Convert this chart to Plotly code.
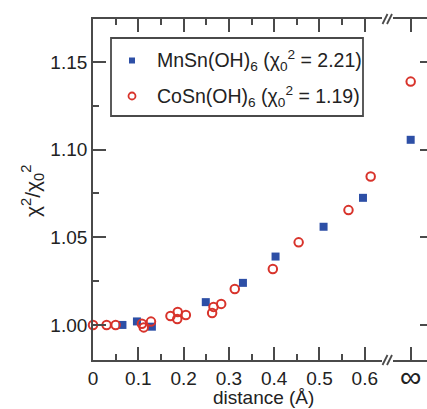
import plotly.graph_objects as go

# ---- data ----
mn_x = [0.065, 0.097, 0.130, 0.249, 0.331, 0.403, 0.509, 0.596]
mn_y = [1.000, 1.002, 0.999, 1.013, 1.024, 1.039, 1.056, 1.0725]
mn_inf = 1.1056

co_x = [0.0, 0.030, 0.050, 0.108, 0.112, 0.128, 0.171, 0.187, 0.186, 0.205,
        0.263, 0.266, 0.283, 0.313, 0.397, 0.454, 0.564, 0.613]
co_y = [1.000, 1.000, 1.000, 1.0007, 0.9986, 1.0019, 1.0051, 1.0074, 1.0034, 1.0057,
        1.0068, 1.0103, 1.012, 1.0205, 1.0319, 1.0471, 1.0655, 1.0847]
co_inf = 1.1388

x_ticks = [0, 0.1, 0.2, 0.3, 0.4, 0.5, 0.6]
x_ticklabels = ["0", "0.1", "0.2", "0.3", "0.4", "0.5", "0.6"]
y_ticks = [1.00, 1.05, 1.10, 1.15]
y_ticklabels = ["1.00", "1.05", "1.10", "1.15"]
inf_label = "∞"
legend_labels = ["MnSn(OH)<sub>6</sub> (χ<sub>0</sub><sup>2</sup> = 2.21)",
                 "CoSn(OH)<sub>6</sub> (χ<sub>0</sub><sup>2</sup> = 1.19)"]

BLUE = "#2d4fa6"
RED = "#d8332b"
AX = "#4a4a4a"
TXT = "#222222"
FONT = "Liberation Sans"

W, H = 427, 409
L, R, T, B = 93, 0, 19, 49
PW, PH = W - L - R, H - T - B


def px(x):
    return (x - L) / PW


def py(y):
    return (H - B - y) / PH


fig = go.Figure()
sq = dict(symbol="square", size=8, color=BLUE, line=dict(width=0))
ci = dict(symbol="circle-open", size=8.5, color=RED, line=dict(width=2, color=RED))

fig.add_trace(go.Scatter(x=mn_x, y=mn_y, mode="markers", marker=sq, cliponaxis=False,
                         xaxis="x", yaxis="y", showlegend=False))
fig.add_trace(go.Scatter(x=co_x, y=co_y, mode="markers", marker=ci, cliponaxis=False,
                         xaxis="x", yaxis="y", showlegend=False))
fig.add_trace(go.Scatter(x=[0.5], y=[mn_inf], mode="markers", marker=sq, cliponaxis=False,
                         xaxis="x2", yaxis="y2", showlegend=False))
fig.add_trace(go.Scatter(x=[0.5], y=[co_inf], mode="markers", marker=ci, cliponaxis=False,
                         xaxis="x2", yaxis="y2", showlegend=False))

yr = [0.98, 1.1745]
d1 = px(382)
d2 = px(393)
LW = 1.8

fig.update_layout(
    width=W, height=H,
    margin=dict(l=L, r=R, t=T, b=B, autoexpand=False),
    paper_bgcolor="white", plot_bgcolor="white",
    font=dict(family=FONT, size=19, color=TXT),
    xaxis=dict(domain=[0, d1], range=[0, 0.638], showgrid=False, zeroline=False,
               showline=True, linecolor=AX, linewidth=LW, mirror="allticks",
               ticks="inside", ticklen=13, tickwidth=LW, tickcolor=AX,
               tickvals=x_ticks, ticktext=x_ticklabels,
               minor=dict(ticks="inside", ticklen=6, tickwidth=LW, tickcolor=AX, dtick=0.05),
               tickfont=dict(size=19, color=TXT), anchor="y", automargin=False),
    yaxis=dict(domain=[0, 1], range=yr, showgrid=False, zeroline=False,
               showline=True, linecolor=AX, linewidth=LW, mirror=False,
               ticks="inside", ticklen=13, tickwidth=LW, tickcolor=AX,
               tickvals=y_ticks, ticktext=y_ticklabels,
               minor=dict(ticks="inside", ticklen=6, tickwidth=LW, tickcolor=AX, dtick=0.025),
               tickfont=dict(size=19, color=TXT), anchor="x", automargin=False),
    xaxis2=dict(domain=[d2, 1], range=[-0.02, 0.98], showgrid=False, zeroline=False,
                showline=True, linecolor=AX, linewidth=LW, mirror="allticks",
                ticks="inside", ticklen=13, tickwidth=LW, tickcolor=AX,
                tickvals=[0.5], showticklabels=False, anchor="y2", automargin=False),
    yaxis2=dict(domain=[0, 1], range=yr, showgrid=False, zeroline=False,
                showline=False, side="right", anchor="x2",
                ticks="inside", ticklen=7, tickwidth=LW, tickcolor=AX,
                tickvals=y_ticks, showticklabels=False, automargin=False),
    showlegend=False,
)

shapes = []
# break marks "//" on top and bottom axes
for ybase in (T, H - B):
    for xc in (385.0, 389.5):
        shapes.append(dict(type="line", xref="paper", yref="paper",
                           x0=px(xc - 2.5), y0=py(ybase + 5), x1=px(xc + 2.5), y1=py(ybase - 5),
                           line=dict(color=AX, width=LW)))
# legend box
shapes.append(dict(type="rect", xref="paper", yref="paper",
                   x0=px(111), y0=py(116), x1=px(363), y1=py(38),
                   line=dict(color=AX, width=LW), fillcolor="rgba(0,0,0,0)"))
# legend symbols
shapes.append(dict(type="rect", xref="paper", yref="paper",
                   x0=px(129), y0=py(63.5), x1=px(135), y1=py(57.5),
                   line=dict(width=0), fillcolor=BLUE))
shapes.append(dict(type="circle", xref="paper", yref="paper",
                   x0=px(128.5), y0=py(99.5), x1=px(135.5), y1=py(92.5),
                   line=dict(color=RED, width=1.8), fillcolor="rgba(0,0,0,0)"))
fig.update_layout(shapes=shapes)

ann = []
ann.append(dict(text=legend_labels[0], xref="paper", yref="paper", x=px(155), y=py(60),
                xanchor="left", yanchor="middle", showarrow=False,
                font=dict(size=19.5, color=TXT, family=FONT)))
ann.append(dict(text=legend_labels[1], xref="paper", yref="paper", x=px(155), y=py(96),
                xanchor="left", yanchor="middle", showarrow=False,
                font=dict(size=19.5, color=TXT, family=FONT)))
ann.append(dict(text="distance (Å)", xref="paper", yref="paper", x=px(263), y=py(408.5),
                xanchor="center", yanchor="bottom", showarrow=False, borderpad=0,
                font=dict(size=19, color=TXT, family=FONT)))
ann.append(dict(text=inf_label, xref="paper", yref="paper", x=px(410.7), y=py(376),
                xanchor="center", yanchor="middle", showarrow=False,
                font=dict(size=30, color=TXT, family=FONT)))
ann.append(dict(text="χ<sup>2</sup>/χ<sub>0</sub><sup>2</sup>", xref="paper", yref="paper",
                x=px(32), y=py(191), textangle=-90,
                xanchor="center", yanchor="middle", showarrow=False,
                font=dict(size=21, color=TXT, family=FONT)))
fig.update_layout(annotations=ann)

fig.write_html("out.html", config={"displayModeBar": False},
               post_script="document.body.style.margin='0';document.body.style.padding='0';")
